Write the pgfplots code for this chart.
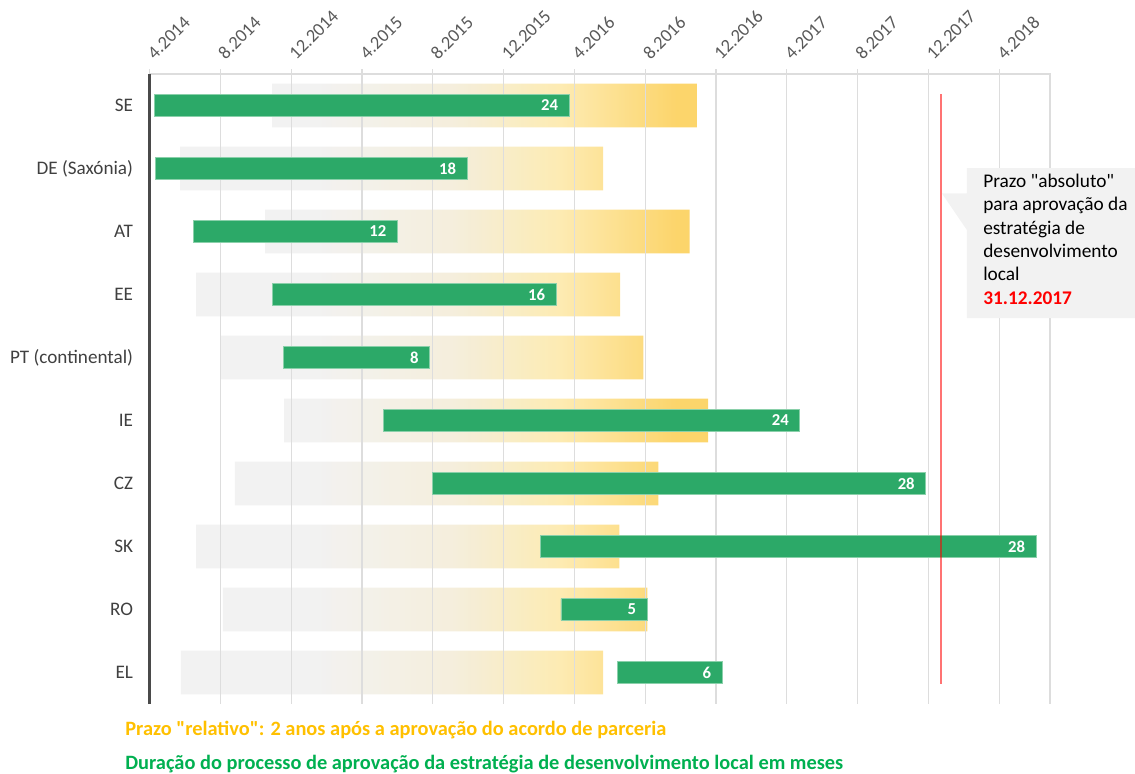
\documentclass[border=0pt]{standalone}
\usepackage{pgfplots}
\pgfplotsset{compat=1.18}
\usepackage{pgfplotstable}
\usepackage{fontspec}
\setmainfont{Carlito}[Ligatures=TeXOff]
\definecolor{gridc}{HTML}{DDDDDD}
\definecolor{axisdark}{HTML}{4A4A4A}
\definecolor{catc}{HTML}{404040}
\definecolor{tickc}{HTML}{595959}
\definecolor{barg}{HTML}{2CA968}
\definecolor{baredge}{HTML}{8AD0AA}
\definecolor{goldtxt}{HTML}{FFC000}
\definecolor{greentxt}{HTML}{00B050}
\definecolor{boxc}{HTML}{F2F2F2}
\definecolor{bggrey}{HTML}{EFEFEF}
\definecolor{bgcream}{HTML}{F2EAD3}
\definecolor{bglight}{HTML}{FCE69F}
\definecolor{bggold}{HTML}{FBCA46}
\pgfdeclarehorizontalshading{bgshade}{100bp}{color(0bp)=(bggrey); color(25bp)=(bggrey); color(37bp)=(bggrey); color(51bp)=(bgcream); color(61bp)=(bglight); color(72bp)=(bggold); color(100bp)=(bggold)}

\pgfplotstableread{
row bgs   bgl   gs    gl    lab xe
0   6.92  24.00 0.26  23.44 24  23.70
1   1.73  23.89 0.34  17.59 18  17.93
2   6.53  23.98 2.46  11.53 12  13.99
3   2.63  23.96 6.94  16.02 16  22.96
4   4.02  23.88 7.55  8.27  8   15.82
5   7.60  23.96 13.20 23.53 24  36.73
6   4.82  23.93 15.98 27.86 28  43.84
7   2.63  23.92 22.07 28.00 28  50.07
8   4.14  23.99 23.24 4.86  5   28.10
9   1.77  23.86 26.42 5.92  6   32.34
}\data

\pgfplotsset{base/.style={width=18.01cm, height=12.6cm, scale only axis,
  xmin=0, xmax=50.87, ymin=-0.5, ymax=9.5, y dir=reverse,
  at={(2.99cm,-14.08cm)}, anchor=south west}}

\begin{document}
\begin{tikzpicture}
\path[use as bounding box] (0,0) rectangle (22.7cm,-15.48cm);
\begin{axis}[base, axis on top, clip=false,
  xbar stacked, bar width=0.874cm,
  axis line style={draw=none},
  xmajorgrids, grid style={gridc, line width=0.65pt},
  xtick={0,4,...,48},
  xticklabels={4.2014,8.2014,12.2014,4.2015,8.2015,12.2015,4.2016,8.2016,12.2016,4.2017,8.2017,12.2017,4.2018},
  xtick pos=right, xticklabel pos=right,
  tick align=outside, major tick length=0.1cm,
  x tick style={gridc, line width=0.65pt},
  xticklabel style={rotate=45, anchor=south west, inner sep=1pt, xshift=4.4pt, text=tickc, font=\fontsize{10.5}{12}\selectfont},
  ytick={0,...,9},
  yticklabels={SE, DE (Saxónia), AT, EE, PT (continental), IE, CZ, SK, RO, EL},
  y tick style={draw=none},
  yticklabel style={text=catc, font=\fontsize{10.9}{12}\selectfont, xshift=-3pt},
]
\addplot[draw=none, fill=none] table[x=bgs, y=row] {\data};
\addplot[draw=none, shade, shading=bgshade, fill opacity=0.8] table[x=bgl, y=row] {\data};
\draw[gridc, line width=0.65pt] (rel axis cs:0,1) -- (rel axis cs:1,1) -- (rel axis cs:1,0);
\end{axis}
\begin{axis}[base, hide axis, clip=false, xbar stacked, bar width=0.434cm]
\addplot[draw=none, fill=none] table[x=gs, y=row] {\data};
\addplot[fill=barg, draw=baredge, line width=0.4pt] table[x=gl, y=row] {\data};
\draw[axisdark, line width=1.2pt] (rel axis cs:0,0) -- (rel axis cs:0,1);
\end{axis}
\begin{axis}[base, hide axis, clip=false]
\addplot[draw=red, draw opacity=0.55, line width=1pt] coordinates {(44.7,-0.18) (44.7,9.18)};
\addplot[only marks, mark=*, mark size=0.1pt, mark options={draw opacity=0, fill opacity=0},
  nodes near coords, point meta=explicit symbolic,
  every node near coord/.append style={anchor=east, inner sep=0pt, xshift=-6pt, text=white, text opacity=1, font=\fontsize{9.5}{10}\selectfont\bfseries}]
  table[x=xe, y=row, meta=lab] {\data};
\end{axis}
\begin{scope}[x=0.02cm, y=-0.02cm]
\fill[boxc] (941.7,193.3) -- (966.7,193.3) -- (966.7,168) -- (1135,168) -- (1135,318) -- (966.7,318) -- (966.7,230) -- cycle;
\begin{scope}[every node/.style={anchor=base west, inner sep=0pt, font=\fontsize{11}{13}\selectfont}]
\node at (982.7,187.3) {Prazo "absoluto"};
\node at (982.7,210.7) {para aprovação da};
\node at (982.7,234.1) {estratégia de};
\node at (982.7,257.5) {desenvolvimento};
\node at (982.7,280.9) {local};
\node[text=red, font=\fontsize{11}{13}\selectfont\bfseries] at (982.7,304.3) {31.12.2017};
\end{scope}
\node[anchor=base west, inner sep=0pt, text=goldtxt, font=\fontsize{11.6}{13}\selectfont\bfseries] at (125,735) {Prazo "relativo": 2 anos após a aprovação do acordo de parceria};
\node[anchor=base west, inner sep=0pt, text=greentxt, font=\fontsize{11.6}{13}\selectfont\bfseries] at (125,769) {Duração do processo de aprovação da estratégia de desenvolvimento local em meses};
\end{scope}
\end{tikzpicture}
\end{document}
